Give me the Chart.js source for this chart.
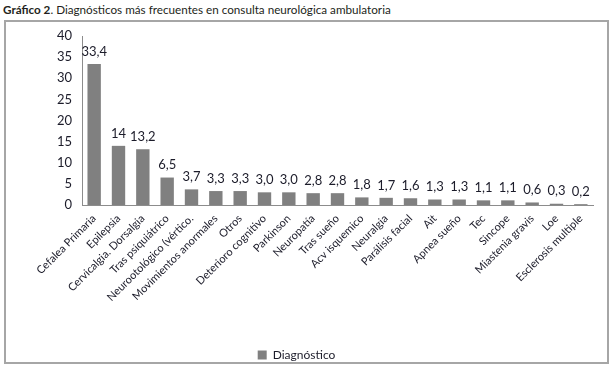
<!DOCTYPE html>
<html lang="es">
<head>
<meta charset="UTF-8" />
<title>Gráfico 2</title>
<script src="https://cdn.jsdelivr.net/npm/chart.js"></script>
<style>
  body { margin: 0; background: #fff; font-family: 'Lato', sans-serif; width: 611px; height: 366px; overflow: hidden; position: relative; }
  .titulo { position: absolute; left: 3px; top: 2px; font-size: 11.7px; color: #231f20; white-space: nowrap; }
  .titulo b { font-weight: 700; }
  .marco { position: absolute; left: 4px; top: 20px; width: 601px; height: 340px; border: 2px solid #a6a6a6; }
  #chart { position: absolute; left: 0; top: 0; }
</style>
</head>
<body>
<div class="titulo"><b>Gráfico 2</b>. Diagnósticos más frecuentes en consulta neurológica ambulatoria</div>
<div class="marco"></div>
<canvas id="chart" width="611" height="371"></canvas>
<script>
const categorias = ['Cefalea Primaria', 'Epilepsia', 'Cervicalgia. Dorsalgia', 'Tras psiquiátrico',
  'Neurootológico (vértico.', 'Movimientos anormales', 'Otros', 'Deterioro cognitivo', 'Parkinson',
  'Neuropatía', 'Tras sueño', 'Acv isquemico', 'Neuralgia', 'Parálisis facial', 'Ait', 'Apnea sueño',
  'Tec', 'Sincope', 'Miastenia gravis', 'Loe', 'Esclerosis multiple'];
const valores = [33.4, 14, 13.2, 6.5, 3.7, 3.3, 3.3, 3.0, 3.0, 2.8, 2.8, 1.8, 1.7, 1.6, 1.3, 1.3, 1.1, 1.1, 0.6, 0.3, 0.2];
const etiquetas = ['33,4', '14', '13,2', '6,5', '3,7', '3,3', '3,3', '3,0', '3,0', '2,8', '2,8', '1,8', '1,7', '1,6', '1,3', '1,3', '1,1', '1,1', '0,6', '0,3', '0,2'];
const ticksY = [0, 5, 10, 15, 20, 25, 30, 35, 40];

const textColor = '#1c1c2a';
const axisColor = '#8c8c8c';

// etiquetas de valor encima de cada barra
const valueLabels = {
  id: 'valueLabels',
  afterDatasetsDraw(chart) {
    const ctx = chart.ctx;
    const meta = chart.getDatasetMeta(0);
    ctx.save();
    ctx.font = '13px Lato';
    ctx.fillStyle = textColor;
    ctx.textAlign = 'center';
    ctx.textBaseline = 'bottom';
    meta.data.forEach((bar, i) => {
      ctx.fillText(etiquetas[i], bar.x, bar.y - 6);
    });
    ctx.restore();
  }
};

new Chart(document.getElementById('chart'), {
  type: 'bar',
  data: {
    labels: categorias,
    datasets: [{
      label: 'Diagnóstico',
      data: valores,
      backgroundColor: '#808080',
      borderWidth: 0,
      barPercentage: 0.55,
      categoryPercentage: 1
    }]
  },
  options: {
    responsive: false,
    animation: false,
    layout: { padding: { top: 36, right: 18, left: 0, bottom: 0 } },
    plugins: {
      legend: {
        position: 'bottom',
        labels: { boxWidth: 9, boxHeight: 9, color: textColor, font: { family: 'Lato', size: 12 }, padding: 4 }
      },
      tooltip: { enabled: false }
    },
    scales: {
      x: {
        grid: { display: false, drawTicks: false },
        border: { color: axisColor, width: 1 },
        ticks: {
          color: textColor, font: { family: 'Lato', size: 11 },
          minRotation: 45, maxRotation: 45, autoSkip: false, padding: 7
        },
        afterFit(s) { s.height = 140; }
      },
      y: {
        min: 0, max: 40,
        afterBuildTicks(s) { s.ticks = ticksY.map(v => ({ value: v })); },
        grid: { display: false, drawTicks: false },
        border: { color: axisColor, width: 1 },
        ticks: { color: textColor, font: { family: 'Lato', size: 13 }, padding: 10 },
        afterFit(s) { s.width = 82; }
      }
    }
  },
  plugins: [valueLabels]
});
</script>
</body>
</html>
